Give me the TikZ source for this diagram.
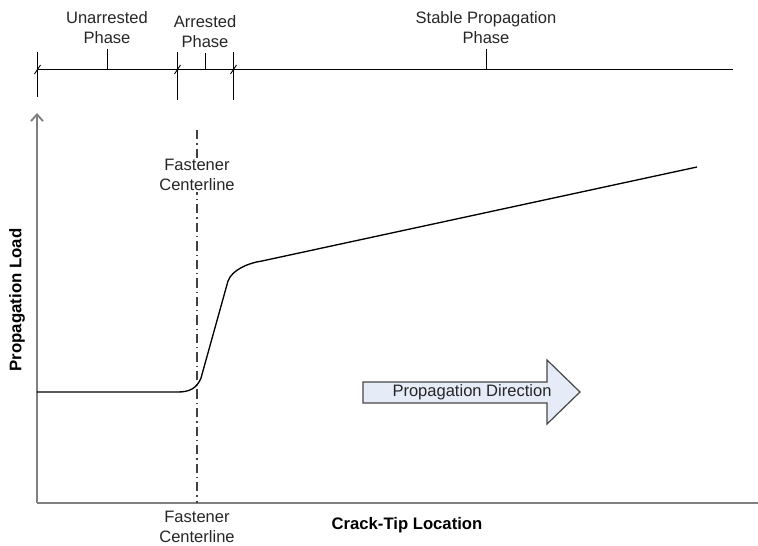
\documentclass[tikz,border=0pt]{standalone}
\usepackage{fontspec}
\setmainfont{Liberation Sans}
\usetikzlibrary{arrows.meta}
\definecolor{axisgray}{RGB}{128,128,128}
\definecolor{arrowblue}{RGB}{230,236,247}
\definecolor{arrowedge}{RGB}{70,70,70}
\tikzset{every picture/.style={line width=0.75pt}}
\tikzset{
  phaselabel/.style={anchor=center, inner sep=0.75pt, align=center, font=\fontsize{12.4}{15}\selectfont, text=black!85},
  axislabel/.style={anchor=center, inner sep=0.75pt, font=\fontsize{12.5}{15}\selectfont\bfseries},
  axisline/.style={draw=axisgray, line width=1.4pt},
  centerline/.style={draw=black!75, line width=1.1pt, dash pattern=on 7pt off 3pt on 0.9pt off 3pt},
}

\begin{document}
\begin{tikzpicture}[x=0.75pt,y=0.75pt,yscale=-1,xscale=1]
\useasboundingbox (0,0) rectangle (758,546);

% Timeline points
\coordinate (tlStart) at (37,69);
\coordinate (tlEnd) at (733,69);
\coordinate (tA) at (177,69);
\coordinate (tB) at (233,69);

%Straight Lines: timeline
\draw (tlStart) -- (tlEnd);
%Straight Lines: phase boundaries
\draw (37,52) -- (37,97);
\draw (177,52) -- (177,100);
\draw (233,52) -- (233,100);
%Straight Lines: boundary slashes
\foreach \xx in {37,177,233}
  \draw[line width=0.7pt] (\xx-2.5,74) -- (\xx+3.5,65);
%Straight Lines: phase marks
\draw (107,49) -- (107,69);
\draw (205,53) -- (205,69);
\draw (486,49) -- (486,69);

% Text Node
\node[phaselabel] (unarrested) at (107,28) {Unarrested\\Phase};
% Text Node
\node[phaselabel] (arrested) at (205,32) {Arrested\\Phase};
% Text Node
\node[phaselabel] (stable) at (486,28) {Stable Propagation\\Phase};

% Axes
\coordinate (origin) at (37,503);
\coordinate (yTop) at (37,113);
\coordinate (xEnd) at (758,503);
\draw[axisline, -{Straight Barb[length=5pt,width=9pt]}] (origin) -- (yTop);
\draw[axisline] (origin) -- (xEnd);

%Straight Lines: fastener centerline
\coordinate (fcTop) at (197,130);
\coordinate (fcBot) at (197,503);
\draw[centerline] (fcTop) -- (fcBot);

% Text Node
\node[phaselabel, fill=white] (fastTop) at (197,175) {Fastener\\Centerline};
% Text Node
\node[phaselabel] (fastBot) at (197,527) {Fastener\\Centerline};
% Text Node
\node[axislabel] (xlabel) at (407,525) {Crack-Tip Location};
% Text Node
\node[axislabel, font=\fontsize{12.6}{15}\selectfont\bfseries, rotate=90] (ylabel) at (17,300) {Propagation Load};

%Curve: propagation load
\draw[line width=1pt] (37,392) -- (178,392)
  .. controls (190,392) and (197,388) .. (201,378)
  -- (228,281)
  .. controls (232,270) and (248,263) .. (262,261)
  -- (697,167);

%Shape: block arrow
\draw[draw=arrowedge, fill=arrowblue, line width=0.9pt] (363,382) -- (547,382) -- (547,360) -- (580,392)
  -- (547,424) -- (547,403) -- (363,403) -- cycle;
% Text Node
\node[phaselabel] (direction) at (472,392) {Propagation Direction};

\end{tikzpicture}
\end{document}
